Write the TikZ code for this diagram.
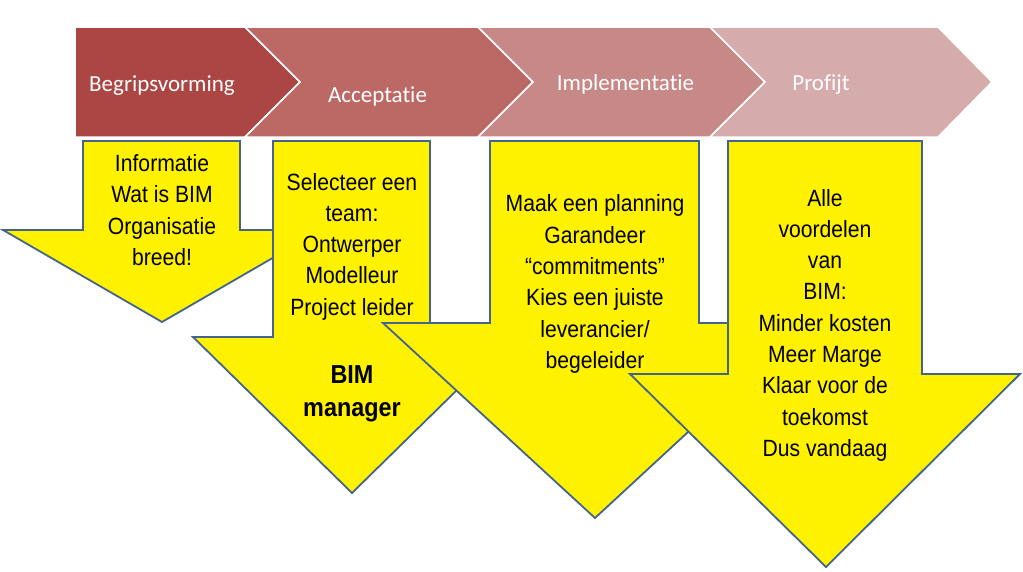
\documentclass[tikz,border=0pt]{standalone}
\usepackage{tikz}
\usepackage{xcolor}
\usepackage{fontspec}
\newfontfamily\calibri[Ligatures=NoCommon]{Carlito}
\newfontfamily\narrowarial[FakeStretch=0.9]{Liberation Sans}
\definecolor{chevA}{RGB}{171,70,68}
\definecolor{chevB}{RGB}{188,105,102}
\definecolor{chevC}{RGB}{198,137,135}
\definecolor{chevD}{RGB}{213,172,171}
\definecolor{arrowline}{RGB}{68,100,140}

\begin{document}
\begin{tikzpicture}[x=1pt,y=-1pt,line join=miter]
        \tikzstyle{chevron}=[draw=white,line width=1.5pt]
        \tikzstyle{downarrow}=[fill=yellow,draw=arrowline,line width=1.8pt]
        \tikzstyle{phase}=[text=white,inner sep=0pt,anchor=base,font=\calibri\fontsize{23}{27}\selectfont]
        \tikzstyle{remark}=[align=center,inner sep=0pt,anchor=base,font=\narrowarial\fontsize{23.5}{31.3}\selectfont]

        \useasboundingbox (0,0) rectangle (1023,571);

        % fasen
        \path[chevron,fill=chevA] (75,27) -- (245,27) -- (300,82) -- (245,137) -- (75,137) -- cycle;
        \path[chevron,fill=chevB] (245,27) -- (478,27) -- (533,82) -- (478,137) -- (245,137) -- (300,82) -- cycle;
        \path[chevron,fill=chevC] (478,27) -- (710,27) -- (765,82) -- (710,137) -- (478,137) -- (533,82) -- cycle;
        \path[chevron,fill=chevD] (710,27) -- (938,27) -- (992,82) -- (938,137) -- (710,137) -- (765,82) -- cycle;

        \node[phase] (begrip)  at (162,91)    {Begripsvorming};
        \node[phase] (accept)  at (377.5,102) {Acceptatie};
        \node[phase] (implem)  at (625.5,90)  {Implementatie};
        \node[phase] (profijt) at (821,90)    {Profijt};

        % pijlen
        \path[downarrow] (83,141) -- (240,141) -- (240,230) -- (321,230) -- (162,322) -- (3,230) -- (83,230) -- cycle;
        \path[downarrow] (273,141) -- (430,141) -- (430,337) -- (511,337) -- (352,493) -- (193,337) -- (273,337) -- cycle;
        \path[downarrow] (490,141) -- (699,141) -- (699,323) -- (806,323) -- (595,518) -- (383,323) -- (490,323) -- cycle;
        \path[downarrow] (728,141) -- (922,141) -- (922,374) -- (1020,374) -- (826,567) -- (630,374) -- (728,374) -- cycle;

        % anchor=base valt op de laatste regel
        \node[remark] (info) at (162,265.5) {Informatie\\Wat is BIM\\Organisatie\\breed!};
        \node[remark] (team) at (352,315.2) {Selecteer een\\team:\\Ontwerper\\Modelleur\\Project leider};
        \node[remark,font=\narrowarial\bfseries\fontsize{26}{33}\selectfont] (bim) at (352,416) {BIM\\manager};
        \node[remark] (planning) at (595,368.3) {Maak een planning\\Garandeer\\“commitments”\\Kies een juiste\\leverancier/\\begeleider};
        \node[remark] (voordelen) at (825,456.4) {Alle\\voordelen\\van\\BIM:\\Minder kosten\\Meer Marge\\Klaar voor de\\toekomst\\Dus vandaag};
\end{tikzpicture}
\end{document}
